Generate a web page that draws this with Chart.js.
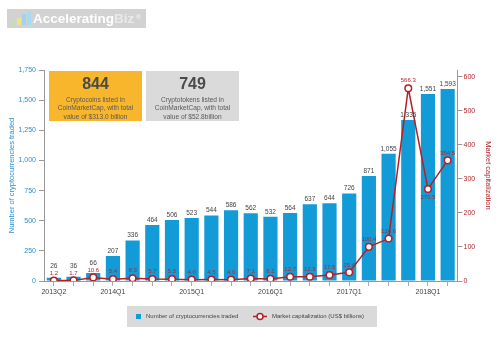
<!DOCTYPE html>
<html><head><meta charset="utf-8">
<script src="https://cdn.jsdelivr.net/npm/chart.js@4.4.1/dist/chart.umd.min.js"></script>
<style>
html,body{margin:0;padding:0;background:#fff;}
#wrap{position:relative;width:500px;height:356px;overflow:hidden;font-family:"Liberation Sans",Arial,sans-serif;}
#c{position:absolute;left:0;top:0;}
.logo{position:absolute;left:7px;top:9px;width:139px;height:19px;background:#d2d2d2;}
.logo .ic{position:absolute;bottom:3px;width:4px;}
.logo .txt{position:absolute;left:26px;top:1px;font-weight:bold;font-size:13.5px;line-height:17px;color:#fff;white-space:nowrap;}
.logo .txt span{color:#e9e9e9;}
.logo .txt sup{font-size:6px;color:#f2f2f2;vertical-align:top;position:relative;top:-1px;margin-left:2px;}
.box{position:absolute;top:71px;width:93px;height:50px;text-align:center;color:#5a5a5a;}
.box .big{font-weight:bold;font-size:16px;line-height:16px;margin-top:5px;color:#4a4a4a;}
.box .sm{font-size:6.6px;line-height:8.3px;margin-top:4px;}
</style></head>
<body>
<div id="wrap">
<canvas id="c" width="500" height="356"></canvas>
<div class="logo">
  <div class="ic" style="left:5px;height:4px;background:#bfe3a0"></div>
  <div class="ic" style="left:10px;height:7px;background:#f5e08a"></div>
  <div class="ic" style="left:15px;height:11px;background:#9fd3ef"></div>
  <div class="ic" style="left:20px;height:14px;background:#a7dbf3"></div>
  <div class="txt">Accelerating<span>Biz</span><sup>®</sup></div>
</div>
<div class="box" style="left:49px;background:#f8b62d;">
  <div class="big">844</div>
  <div class="sm">Cryptocoins listed in<br>CoinMarketCap, with total<br>value of $313.0 billion</div>
</div>
<div class="box" style="left:146px;background:#dadada;">
  <div class="big">749</div>
  <div class="sm">Cryptotokens listed in<br>CoinMarketCap, with total<br>value of $52.8billion</div>
</div>
</div>
<script>
const categories = ['2013Q2','2013Q3','2013Q4','2014Q1','2014Q2','2014Q3','2014Q4','2015Q1','2015Q2','2015Q3','2015Q4','2016Q1','2016Q2','2016Q3','2016Q4','2017Q1','2017Q2','2017Q3','2017Q4','2018Q1','2018Q2'];
const cryptosTraded = [26,36,66,207,336,464,506,523,544,586,562,532,564,637,644,726,871,1055,1335,1551,1593];
const marketCap = [1.2,1.7,10.6,5.4,8.3,5.7,5.5,4.0,4.5,4.0,7.1,6.1,12.7,12.3,17.5,25.4,100.4,124.6,566.3,270.5,354.5];
const shownTickLabels = ['2013Q2','2014Q1','2015Q1','2016Q1','2017Q1','2018Q1'];
const leftTicks = [0,250,500,750,1000,1250,1500,1750];
const rightTicks = [0,100,200,300,400,500,600];

const BLUE = '#129bd7', RED = '#b51f26', BLUE_TXT = '#2b90cf', RED_TXT = '#b3262c';
const FONT = '"Liberation Sans", Arial, sans-serif';

const labelPlugin = {
  id: 'valueLabels',
  afterDatasetsDraw(chart) {
    const ctx = chart.ctx;
    const barMeta = chart.getDatasetMeta(0), lineMeta = chart.getDatasetMeta(1);
    ctx.save();
    ctx.textAlign = 'center'; ctx.textBaseline = 'middle';
    const lineYs = [];
    lineMeta.data.forEach((pt, i) => {
      const v = marketCap[i], prev = marketCap[i-1], next = marketCap[i+1];
      const below = prev !== undefined && next !== undefined && prev - v > 50 && next - v > 50;
      lineYs.push(below ? pt.y + 8 : pt.y - 7.5);
    });
    ctx.font = '6.5px ' + FONT; ctx.fillStyle = '#444';
    barMeta.data.forEach((bar, i) => {
      let y = bar.y - 5;
      if (Math.abs(y - lineYs[i]) < 7) y = lineYs[i] - 7;
      ctx.fillText(cryptosTraded[i].toLocaleString('en-US'), bar.x, y);
    });
    ctx.font = '6px ' + FONT; ctx.fillStyle = RED_TXT;
    lineMeta.data.forEach((pt, i) => {
      ctx.fillText(marketCap[i].toFixed(1), pt.x, lineYs[i]);
    });
    ctx.restore();
  },
  afterDraw(chart) {
    const ctx = chart.ctx;
    ctx.save();
    ctx.fillStyle = '#dadada';
    ctx.fillRect(127, 306, 250, 21);
    const cy = 316.5;
    ctx.fillStyle = BLUE;
    ctx.fillRect(136, cy - 2.5, 5, 5);
    ctx.font = '6px ' + FONT; ctx.fillStyle = '#444';
    ctx.textBaseline = 'middle'; ctx.textAlign = 'left';
    ctx.fillText(chart.data.datasets[0].label, 146, cy);
    ctx.strokeStyle = RED; ctx.lineWidth = 1.5;
    ctx.beginPath(); ctx.moveTo(253, cy); ctx.lineTo(267, cy); ctx.stroke();
    ctx.beginPath(); ctx.arc(260, cy, 3, 0, Math.PI*2);
    ctx.fillStyle = '#fff'; ctx.fill(); ctx.stroke();
    ctx.fillStyle = '#444';
    ctx.fillText(chart.data.datasets[1].label, 272, cy);
    ctx.restore();
  }
};

new Chart(document.getElementById('c'), {
  type: 'bar',
  data: {
    labels: categories,
    datasets: [
      { type: 'bar', label: 'Number of cryptocurrencies traded', data: cryptosTraded,
        backgroundColor: BLUE, yAxisID: 'y', order: 1,
        barPercentage: 0.72, categoryPercentage: 1 },
      { type: 'line', label: 'Market capitalization (US$ billions)', data: marketCap,
        yAxisID: 'y1', order: 0, borderColor: RED, borderWidth: 1.5,
        pointRadius: 3.3, pointBackgroundColor: '#fff', pointBorderColor: RED,
        pointBorderWidth: 1.5, tension: 0 }
    ]
  },
  options: {
    responsive: false, devicePixelRatio: 1, animation: false,
    layout: { padding: { top: 70, left: 0, right: 0, bottom: 0 } },
    plugins: { legend: { display: false }, tooltip: { enabled: false } },
    scales: {
      x: {
        offset: true,
        grid: { offset: false, drawOnChartArea: false, drawTicks: true, tickLength: 5, color: '#aaa' },
        border: { display: true, color: '#999' },
        ticks: { autoSkip: false, maxRotation: 0, minRotation: 0, padding: 2,
          font: { size: 7, family: FONT }, color: '#444',
          callback: (v, i) => shownTickLabels.includes(categories[i]) ? categories[i] : '' },
        afterFit: s => { s.height = 75; }
      },
      y: {
        position: 'left', min: 0, max: 1750,
        afterBuildTicks: s => { s.ticks = leftTicks.map(v => ({ value: v })); },
        grid: { drawOnChartArea: false, drawTicks: true, tickLength: 5, color: '#999' },
        border: { display: true, color: '#999' },
        ticks: { padding: 3, font: { size: 7, family: FONT }, color: BLUE_TXT,
          callback: v => v.toLocaleString('en-US') },
        title: { display: true, text: 'Number of cryptocurrencies traded', color: BLUE_TXT,
          font: { size: 7.5, family: FONT }, padding: { top: 7, bottom: 0 } },
        afterFit: s => { s.width = 44; }
      },
      y1: {
        position: 'right', min: 0, max: 620,
        afterBuildTicks: s => { s.ticks = rightTicks.map(v => ({ value: v })); },
        grid: { drawOnChartArea: false, drawTicks: true, tickLength: 5, color: '#999' },
        border: { display: true, color: '#999' },
        ticks: { padding: 1, font: { size: 7, family: FONT }, color: RED_TXT },
        title: { display: true, text: 'Market capitalization', color: RED_TXT,
          font: { size: 7.5, family: FONT }, padding: { top: 7, bottom: 0 } },
        afterFit: s => { s.width = 42.5; }
      }
    }
  },
  plugins: [labelPlugin]
});
</script>
</body></html>
